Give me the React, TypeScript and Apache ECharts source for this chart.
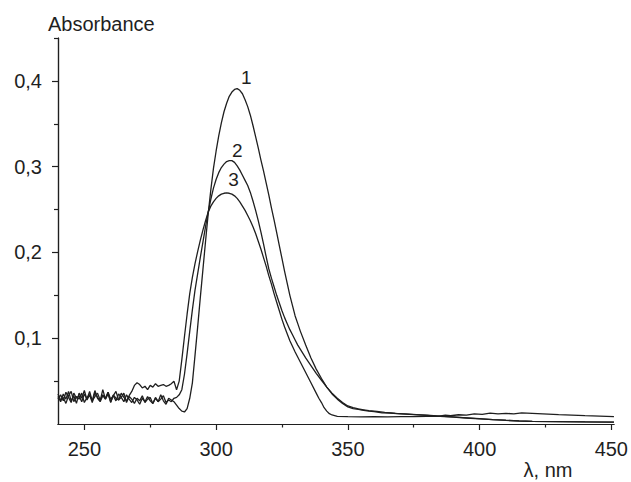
import React, { useEffect, useRef } from "react";
import * as echarts from "echarts";

const seq = (a: number, b: number): number[] =>
  Array.from({ length: b - a + 1 }, (_, i) => a + i);

// axis ticks / labels
const xTickLabels = [250, 300, 350, 400, 450];
const xMinorTicks = [275, 325, 375, 425];
const yTickLabels = [0.1, 0.2, 0.3, 0.4];
const yMinorTicks = [0.05, 0.15, 0.25, 0.35, 0.45];
const curveNames = ["1", "2", "3"];

// curve 1
const wl1 = [
  ...seq(240, 332),
  334, 336, 338, 340, 342, 344, 346, 348, 350, 352, 354, 356, 358, 360, 363, 366,
  370, 375, 380, 385, 390, 395, 400, 405, 410, 415, 420, 430, 440, 451,
];
const abs1 = [
  0.032, 0.026, 0.035, 0.029, 0.038, 0.027, 0.033, 0.024, 0.036, 0.030, 0.039,
  0.028, 0.034, 0.025, 0.037, 0.031, 0.027, 0.040, 0.029, 0.035, 0.026, 0.033,
  0.038, 0.028, 0.031, 0.036, 0.025, 0.032, 0.029, 0.024, 0.030, 0.027, 0.033,
  0.025, 0.029, 0.031, 0.024, 0.030, 0.026, 0.034, 0.027, 0.023, 0.030, 0.028,
  0.026, 0.022, 0.018, 0.015, 0.014, 0.018,
  0.030, 0.048, 0.080, 0.113, 0.147, 0.180, 0.213, 0.245, 0.273, 0.298,
  0.318, 0.336, 0.351, 0.364, 0.374, 0.382, 0.387, 0.390, 0.391, 0.389,
  0.385, 0.378, 0.370, 0.360, 0.348, 0.335, 0.322, 0.308, 0.295, 0.281,
  0.267, 0.252, 0.238, 0.223, 0.208, 0.193, 0.178, 0.164, 0.150, 0.138,
  0.126, 0.117, 0.108,
  0.092, 0.077, 0.064, 0.053, 0.043, 0.035, 0.029, 0.024, 0.020, 0.018, 0.017,
  0.016, 0.015, 0.0145, 0.013, 0.0128, 0.0118, 0.011, 0.010, 0.009, 0.008, 0.007,
  0.006, 0.005, 0.0042, 0.0035, 0.003, 0.0027, 0.0024, 0.0022,
];

// curve 2
const wl2 = [
  ...seq(240, 332),
  334, 336, 338, 340, 342, 344, 346, 348, 350, 352, 354, 356, 358, 361, 364, 368,
  372, 376, 380, 385, 390, 395, 400, 405, 410, 415, 420, 430, 440, 451,
];
const abs2 = [
  0.029, 0.034, 0.027, 0.037, 0.031, 0.025, 0.036, 0.030, 0.033, 0.026, 0.035,
  0.029, 0.038, 0.027, 0.032, 0.036, 0.028, 0.034, 0.030, 0.037, 0.029, 0.033,
  0.027, 0.035, 0.031, 0.026, 0.034, 0.029, 0.025, 0.031, 0.028, 0.023, 0.030,
  0.026, 0.032, 0.027, 0.024, 0.031, 0.026, 0.029, 0.033, 0.025, 0.028, 0.026,
  0.030, 0.031,
  0.034, 0.040, 0.058, 0.082,
  0.108, 0.133, 0.156, 0.175, 0.194, 0.212, 0.230, 0.247, 0.262, 0.275,
  0.285, 0.293, 0.299, 0.303, 0.306, 0.307, 0.307, 0.305, 0.301, 0.296,
  0.290, 0.284, 0.278, 0.270, 0.260, 0.249, 0.237, 0.224, 0.210, 0.195,
  0.181, 0.170, 0.160, 0.150, 0.141, 0.132, 0.124, 0.117, 0.110, 0.104,
  0.098, 0.092, 0.087,
  0.077, 0.068, 0.059, 0.051, 0.043, 0.036, 0.030, 0.025, 0.021, 0.019, 0.0175,
  0.0165, 0.0155, 0.0148, 0.0135, 0.0125, 0.0118, 0.011, 0.0102, 0.0092, 0.0082,
  0.0072, 0.0062, 0.0052, 0.0044, 0.0037, 0.0031, 0.0027, 0.0025, 0.0023,
];

// curve 3
const wl3 = [
  ...seq(240, 326),
  328, 330, 332, 334, 336, 338, 339, 340, 341, 342, 343, 344, 346, 350, 355, 360,
  365, 370, 375, 380, 384, 387, 389, 392, 395, 398, 401, 404, 407, 410, 413, 416,
  420, 430, 440, 451,
];
const abs3 = [
  0.035, 0.028, 0.031, 0.024, 0.033, 0.038, 0.026, 0.032, 0.029, 0.036, 0.025,
  0.031, 0.034, 0.027, 0.039, 0.030, 0.026, 0.033, 0.029, 0.037, 0.025, 0.034,
  0.030, 0.028, 0.036, 0.031, 0.027, 0.033,
  0.038, 0.045, 0.048, 0.046, 0.042, 0.044, 0.040, 0.045, 0.043, 0.047, 0.044,
  0.045, 0.046, 0.044, 0.045, 0.047, 0.050,
  0.040, 0.050, 0.075, 0.102, 0.128,
  0.152, 0.171, 0.187, 0.201, 0.214, 0.226, 0.237, 0.247, 0.254, 0.259,
  0.263, 0.266, 0.268, 0.269, 0.2695, 0.269, 0.268, 0.266, 0.263, 0.259,
  0.254, 0.249, 0.243, 0.237, 0.230, 0.222, 0.213, 0.204, 0.194, 0.184,
  0.173, 0.163, 0.152, 0.142, 0.132, 0.122, 0.113,
  0.097, 0.084, 0.072, 0.060, 0.048, 0.036, 0.030, 0.025, 0.019, 0.015, 0.012,
  0.0105, 0.009, 0.0085, 0.0084, 0.0085, 0.0084, 0.0085, 0.0086, 0.0088, 0.009,
  0.0102, 0.0096, 0.0108, 0.0103, 0.0118, 0.0112, 0.0126, 0.0118, 0.0124,
  0.0119, 0.013, 0.0125, 0.011, 0.0098, 0.0087,
];

const FONT = "'Liberation Sans', Arial, Helvetica, sans-serif";
const INK = "#1f1f1f";

const zip = (xs: number[], ys: number[]) => xs.map((x, i) => [x, ys[i]]);

const peakOf = (xs: number[], ys: number[]) => {
  let k = 0;
  ys.forEach((v, i) => {
    if (v > ys[k]) k = i;
  });
  return [xs[k], ys[k]];
};

const labelOffsets: [number, number][] = [
  [9, -11],
  [8, -10],
  [7, -13],
];

export default function App() {
  const ref = useRef<HTMLDivElement>(null);

  useEffect(() => {
    document.body.style.margin = "0";
    if (!ref.current) return;
    const chart = echarts.init(ref.current, undefined, { renderer: "svg" });

    const curves = [
      [wl1, abs1],
      [wl2, abs2],
      [wl3, abs3],
    ];

    const axisLineStyle = { color: INK, width: 1.2 };

    chart.setOption({
      animation: false,
      backgroundColor: "#ffffff",
      grid: { left: 58, right: 16, top: 38, bottom: 58, containLabel: false },
      xAxis: [
        {
          type: "value",
          min: 240,
          max: 451,
          position: "bottom",
          axisLine: { show: true, lineStyle: axisLineStyle },
          axisTick: {
            show: true,
            customValues: xTickLabels,
            length: 6,
            lineStyle: axisLineStyle,
          },
          axisLabel: {
            show: true,
            customValues: xTickLabels,
            margin: 15,
            fontSize: 20,
            color: INK,
            fontFamily: FONT,
          },
          splitLine: { show: false },
        },
        {
          type: "value",
          min: 240,
          max: 451,
          position: "bottom",
          axisLine: { show: true, lineStyle: axisLineStyle },
          axisTick: {
            show: true,
            customValues: xMinorTicks,
            length: 3.5,
            lineStyle: axisLineStyle,
          },
          axisLabel: { show: false },
          splitLine: { show: false },
        },
      ],
      yAxis: [
        {
          type: "value",
          min: 0,
          max: 0.45,
          position: "left",
          axisLine: { show: true, lineStyle: axisLineStyle },
          axisTick: {
            show: true,
            customValues: yTickLabels,
            length: 6,
            lineStyle: axisLineStyle,
          },
          axisLabel: {
            show: true,
            customValues: yTickLabels,
            margin: 16,
            fontSize: 20,
            color: INK,
            fontFamily: FONT,
            formatter: (v: number) => v.toFixed(1).replace(".", ","),
          },
          splitLine: { show: false },
        },
        {
          type: "value",
          min: 0,
          max: 0.45,
          position: "left",
          axisLine: { show: true, lineStyle: axisLineStyle },
          axisTick: {
            show: true,
            customValues: yMinorTicks,
            length: 4,
            lineStyle: axisLineStyle,
          },
          axisLabel: { show: false },
          splitLine: { show: false },
        },
      ],
      graphic: [
        {
          type: "text",
          x: 48,
          y: 24,
          style: {
            text: "Absorbance",
            fontSize: 20,
            fontFamily: FONT,
            fill: INK,
            textAlign: "left",
            textVerticalAlign: "middle",
          },
        },
        {
          type: "text",
          x: 548,
          y: 470,
          style: {
            text: "λ, nm",
            fontSize: 20,
            fontFamily: FONT,
            fill: INK,
            textAlign: "center",
            textVerticalAlign: "middle",
          },
        },
      ],
      series: curves.map(([xs, ys], i) => ({
        type: "line",
        name: curveNames[i],
        xAxisIndex: 0,
        yAxisIndex: 0,
        data: zip(xs, ys),
        showSymbol: false,
        symbol: "none",
        smooth: false,
        lineStyle: { color: INK, width: 1.3 },
        silent: true,
        markPoint: {
          silent: true,
          symbol: "circle",
          symbolSize: 1,
          itemStyle: { color: "rgba(0,0,0,0)" },
          label: {
            show: true,
            position: "inside",
            offset: labelOffsets[i],
            formatter: () => curveNames[i],
            fontSize: 19,
            fontFamily: FONT,
            color: INK,
          },
          data: [{ coord: peakOf(xs, ys) }],
        },
      })),
    });

    return () => chart.dispose();
  }, []);

  return <div ref={ref} style={{ width: 631, height: 482 }} />;
}
